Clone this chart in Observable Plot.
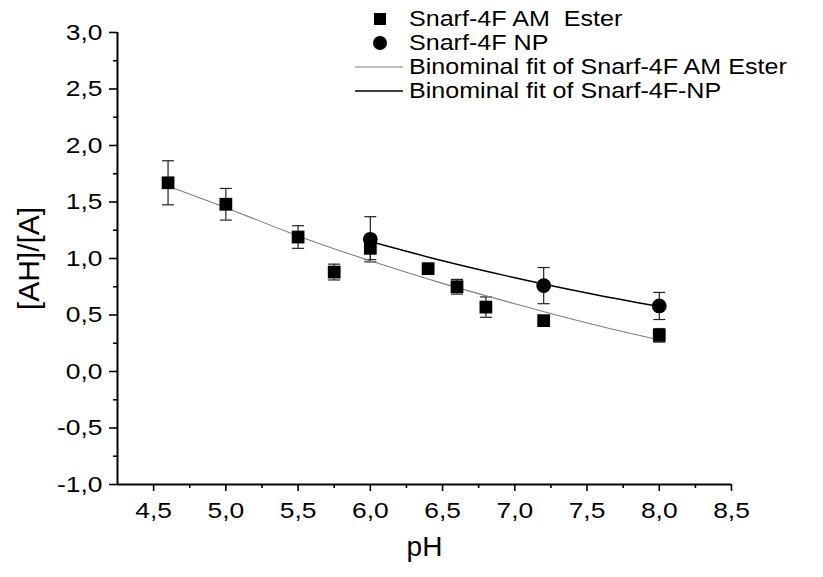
<!DOCTYPE html>
<html>
<head>
<meta charset="utf-8">
<script src="https://cdn.jsdelivr.net/npm/d3@7"></script>
<script src="https://cdn.jsdelivr.net/npm/@observablehq/plot@0.6"></script>
<style>
  html, body { margin: 0; padding: 0; background: #fff; }
  #wrap { position: relative; width: 823px; height: 577px; font-family: "Liberation Sans", Arial, sans-serif; }
  #legend { position: absolute; left: 0; top: 0; }
  .row { position: absolute; height: 24px; line-height: 24px; font-size: 22px; color: #000; white-space: pre;
         transform: scaleX(1.14); transform-origin: left center; }
  .sym { position: absolute; }
</style>
</head>
<body>
<div id="wrap"><div id="legend"></div></div>
<script>
// AM Ester (squares)
const amPH  = [4.6, 5.0, 5.5, 5.75, 6.0, 6.4, 6.6, 6.8, 7.2, 8.0];
const amVal = [1.67, 1.48, 1.19, 0.88, 1.09, 0.91, 0.75, 0.57, 0.45, 0.32];
const amErr = [0.195, 0.14, 0.10, 0.07, 0.10, 0.03, 0.065, 0.09, 0.02, 0.06];
// NP (circles)
const npPH  = [6.0, 7.2, 8.0];
const npVal = [1.17, 0.76, 0.58];
const npErr = [0.20, 0.16, 0.12];
// fit curves
const fitAmPH  = [4.6, 5.0, 5.5, 6.0, 6.5, 7.0, 7.5, 8.0];
const fitAmVal = [1.64, 1.45, 1.20, 0.98, 0.78, 0.60, 0.43, 0.28];
const fitNpPH  = [6.0, 6.5, 7.0, 7.5, 8.0];
const fitNpVal = [1.15, 0.98, 0.83, 0.695, 0.575];
// ticks
const xTicks = [4.5, 5.0, 5.5, 6.0, 6.5, 7.0, 7.5, 8.0, 8.5];
const xMinor = [4.75, 5.25, 5.75, 6.25, 6.75, 7.25, 7.75, 8.25];
const yTicks = [-1.0, -0.5, 0.0, 0.5, 1.0, 1.5, 2.0, 2.5, 3.0];
const yMinor = [-0.75, -0.25, 0.25, 0.75, 1.25, 1.75, 2.25, 2.75];
const legendLabels = ["Snarf-4F AM  Ester", "Snarf-4F NP", "Binominal fit of Snarf-4F AM Ester", "Binominal fit of Snarf-4F-NP"];

const am = amPH.map((x, i) => ({x, y: amVal[i], lo: amVal[i] - amErr[i], hi: amVal[i] + amErr[i]}));
const np = npPH.map((x, i) => ({x, y: npVal[i], lo: npVal[i] - npErr[i], hi: npVal[i] + npErr[i]}));
const fitAm = fitAmPH.map((x, i) => ({x, y: fitAmVal[i]}));
const fitNp = fitNpPH.map((x, i) => ({x, y: fitNpVal[i]}));
const bars = am.concat(np);

const fmt = d => d.toFixed(1).replace(".", ",");
const cap = {draw(ctx, size) { const w = 6; ctx.moveTo(-w, 0); ctx.lineTo(w, 0); }};

const chart = Plot.plot({
  width: 823, height: 577,
  marginLeft: 117, marginRight: 92, marginTop: 32, marginBottom: 93,
  x: {domain: [4.25, 8.5]},
  y: {domain: [-1, 3]},
  style: {fontFamily: "'Liberation Sans', Arial, sans-serif", fontSize: "22px", color: "#000", background: "#fff"},
  marks: [
    Plot.axisX(xTicks, {tickSize: 7, tickPadding: 11, tickFormat: fmt, fontSize: 22, label: null, strokeWidth: 1.6}),
    Plot.axisX(xMinor, {tickSize: 4, tickFormat: () => "", label: null, strokeWidth: 1.6}),
    Plot.axisY(yTicks, {tickSize: 8, tickPadding: 7, tickFormat: fmt, fontSize: 22, label: null, strokeWidth: 1.6}),
    Plot.axisY(yMinor, {tickSize: 4, tickFormat: () => "", label: null, strokeWidth: 1.6}),
    Plot.ruleX([4.25], {stroke: "#000", strokeWidth: 2}),
    Plot.ruleY([-1], {stroke: "#000", strokeWidth: 2}),
    Plot.text(["pH"], {frameAnchor: "bottom", lineAnchor: "middle", textAnchor: "middle", dy: 63, fontSize: 28}),
    Plot.text(["[AH]/[A]"], {frameAnchor: "left", textAnchor: "middle", lineAnchor: "middle", dx: -88, rotate: -90, fontSize: 30}),
    Plot.ruleX(bars, {x: "x", y1: "lo", y2: "hi", stroke: "#222", strokeWidth: 1.2}),
    Plot.dot(bars, {x: "x", y: "lo", symbol: cap, stroke: "#222", strokeWidth: 1.2, r: 5}),
    Plot.dot(bars, {x: "x", y: "hi", symbol: cap, stroke: "#222", strokeWidth: 1.2, r: 5}),
    Plot.line(fitAm, {x: "x", y: "y", stroke: "#808080", strokeWidth: 1.1, curve: "natural"}),
    Plot.line(fitNp, {x: "x", y: "y", stroke: "#000", strokeWidth: 1.4, curve: "natural"}),
    Plot.dot(am, {x: "x", y: "y", symbol: "square", r: 7.2, fill: "#000", stroke: "none"}),
    Plot.dot(np, {x: "x", y: "y", symbol: "circle", r: 7.4, fill: "#000", stroke: "none"})
  ]
});
document.getElementById("wrap").prepend(chart);

// slightly wider tick labels, as in the reference (scale about each label's anchor)
chart.querySelectorAll('g[aria-label="x-axis tick label"] text, g[aria-label="y-axis tick label"] text').forEach(t => {
  const tr = t.getAttribute("transform") || "";
  const x = parseFloat(t.getAttribute("x")) || 0;
  t.setAttribute("transform", `${tr} translate(${x},0) scale(1.2,1) translate(${-x},0)`);
});

// legend
const lg = document.getElementById("legend");
const rowY = [19, 43, 67, 91];
const syms = [
  '<rect x="374" y="0" width="12" height="12" fill="#000"/>',
  '<circle cx="380" cy="6" r="7" fill="#000"/>',
  '<line x1="355" x2="403" y1="6" y2="6" stroke="#808080" stroke-width="1.1"/>',
  '<line x1="355" x2="403" y1="6" y2="6" stroke="#000" stroke-width="1.4"/>'
];
legendLabels.forEach((t, i) => {
  const svg = document.createElementNS("http://www.w3.org/2000/svg", "svg");
  svg.setAttribute("width", "823"); svg.setAttribute("height", "14");
  svg.setAttribute("class", "sym");
  svg.style.left = "0px"; svg.style.top = (rowY[i] - 6) + "px";
  svg.style.overflow = "visible";
  svg.innerHTML = syms[i];
  lg.appendChild(svg);
  const d = document.createElement("div");
  d.className = "row";
  d.style.left = "409px";
  d.style.top = (rowY[i] - 12) + "px";
  d.textContent = t;
  lg.appendChild(d);
});
</script>
</body>
</html>
